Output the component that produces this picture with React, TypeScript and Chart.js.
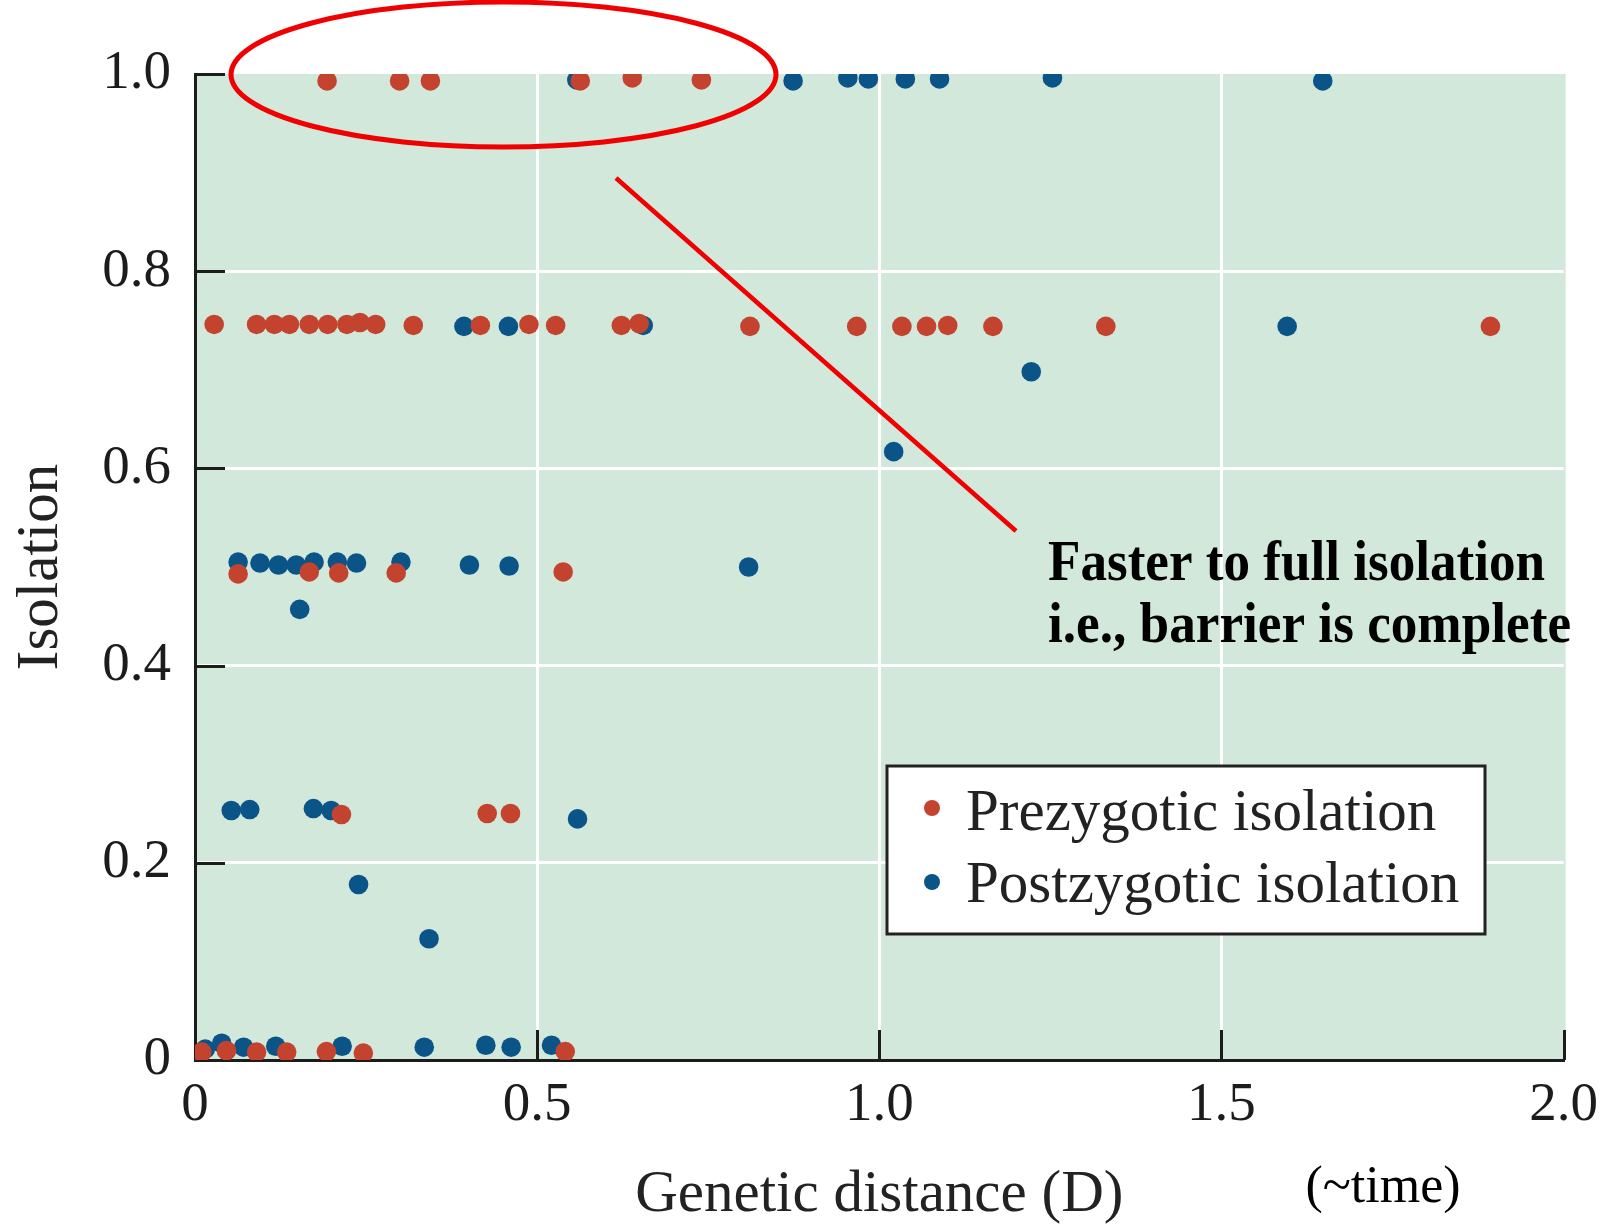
import React, { useEffect, useRef } from 'react';
import { Chart, registerables } from 'chart.js';

Chart.register(...registerables);

// ---- Data ----
const prezygoticD = [
  0.193, 0.299, 0.344, 0.563, 0.639, 0.740,
  0.028, 0.090, 0.116, 0.138, 0.167, 0.194, 0.222, 0.241, 0.264, 0.319, 0.417, 0.488, 0.527,
  0.623, 0.649, 0.811, 0.967, 1.033, 1.069, 1.100, 1.166, 1.331, 1.893,
  0.063, 0.167, 0.210, 0.294, 0.538,
  0.214, 0.427, 0.461,
  0.010, 0.046, 0.090, 0.134, 0.192, 0.246, 0.541,
];
const prezygoticIso = [
  0.993, 0.993, 0.993, 0.993, 0.996, 0.994,
  0.746, 0.746, 0.746, 0.746, 0.746, 0.746, 0.746, 0.748, 0.746, 0.745, 0.745, 0.746, 0.745,
  0.745, 0.747, 0.744, 0.744, 0.744, 0.744, 0.745, 0.744, 0.744, 0.744,
  0.493, 0.495, 0.494, 0.494, 0.495,
  0.249, 0.250, 0.250,
  0.008, 0.0095, 0.008, 0.008, 0.0085, 0.007, 0.0085,
];
const postzygoticD = [
  0.558, 0.874, 0.954, 0.984, 1.038, 1.088, 1.253, 1.648,
  0.393, 0.458, 0.655, 1.596,
  1.222, 1.021,
  0.063, 0.095, 0.122, 0.148, 0.174, 0.208, 0.236, 0.301, 0.401, 0.459, 0.809,
  0.153,
  0.053, 0.080, 0.173, 0.199, 0.559,
  0.239, 0.342,
  0.015, 0.039, 0.071, 0.118, 0.215, 0.335, 0.425, 0.462, 0.521,
];
const postzygoticIso = [
  0.994, 0.993, 0.996, 0.995, 0.995, 0.995, 0.996, 0.993,
  0.744, 0.744, 0.745, 0.744,
  0.698, 0.617,
  0.505, 0.504, 0.502, 0.502, 0.505, 0.505, 0.504, 0.505, 0.502, 0.501, 0.500,
  0.457,
  0.253, 0.254, 0.255, 0.253, 0.2445,
  0.178, 0.123,
  0.011, 0.017, 0.013, 0.014, 0.014, 0.013, 0.015, 0.013, 0.015,
];

const xTickValues = [0, 0.5, 1.0, 1.5, 2.0];
const xTickLabels = ['0', '0.5', '1.0', '1.5', '2.0'];
const yTickLabels = ['0', '0.2', '0.4', '0.6', '0.8', '1.0'];
const seriesNames = ['Prezygotic isolation', 'Postzygotic isolation'];
const annotationLines = ['Faster to full isolation', 'i.e., barrier is complete'];
const xTitle = 'Genetic distance (D)';
const yTitle = 'Isolation';
const timeNote = '(~time)';

// ---- Styles ----
const RED = '#c4432f';
const BLUE = '#0b5488';
const BG = '#d1e8da';
const INK = '#1c1c1c';
const SERIF = "'Liberation Serif', 'Times New Roman', serif";

const decorPlugin = {
  id: 'decor',
  beforeDraw(chart: any) {
    const { ctx, chartArea: a } = chart;
    ctx.save();
    ctx.fillStyle = '#ffffff';
    ctx.fillRect(0, 0, chart.width, chart.height);
    ctx.fillStyle = BG;
    ctx.fillRect(a.left, a.top, a.right - a.left + 2, a.bottom - a.top);
    ctx.restore();
  },
  afterDatasetsDraw(chart: any) {
    const { ctx, chartArea: a, scales } = chart;
    const xs = scales.x;
    const ys = scales.y;
    ctx.save();
    ctx.strokeStyle = INK;
    ctx.lineWidth = 3;
    // inward ticks on y axis
    [0.2, 0.4, 0.6, 0.8, 1.0].forEach((v) => {
      const py = Math.round(ys.getPixelForValue(v)) + 0.5;
      ctx.beginPath();
      ctx.moveTo(a.left, py);
      ctx.lineTo(a.left + 30, py);
      ctx.stroke();
    });
    // inward ticks on x axis
    xTickValues.slice(1).forEach((v) => {
      const px = Math.round(xs.getPixelForValue(v)) + 0.5;
      ctx.beginPath();
      ctx.moveTo(px, a.bottom);
      ctx.lineTo(px, a.bottom - 30);
      ctx.stroke();
    });
    ctx.restore();
  },
  afterDraw(chart: any) {
    const { ctx } = chart;
    ctx.save();
    // legend box
    ctx.fillStyle = '#ffffff';
    ctx.fillRect(887, 766, 598, 168);
    ctx.strokeStyle = '#222222';
    ctx.lineWidth = 3;
    ctx.strokeRect(887, 766, 598, 168);
    const colors = [RED, BLUE];
    const bulletY = [808, 882];
    const baseY = [830, 902];
    const widths = [472, 497];
    ctx.font = `59px ${SERIF}`;
    ctx.textAlign = 'left';
    ctx.textBaseline = 'alphabetic';
    seriesNames.forEach((name, i) => {
      ctx.fillStyle = colors[i];
      ctx.beginPath();
      ctx.arc(932, bulletY[i], 8, 0, Math.PI * 2);
      ctx.fill();
      ctx.fillStyle = '#222222';
      ctx.fillText(name, 966, baseY[i], widths[i]);
    });

    // annotation text
    ctx.fillStyle = '#000000';
    ctx.font = `bold 56px ${SERIF}`;
    ctx.fillText(annotationLines[0], 1048, 580, 497);
    ctx.fillText(annotationLines[1], 1048, 642, 523);

    // (~time)
    ctx.font = `52px ${SERIF}`;
    ctx.textAlign = 'center';
    ctx.fillStyle = '#000000';
    ctx.fillText(timeNote, 1383, 1202);

    // red ellipse + pointer line
    ctx.strokeStyle = '#f00000';
    ctx.lineWidth = 5;
    ctx.beginPath();
    ctx.ellipse(503.5, 74.5, 272.5, 72.5, 0, 0, Math.PI * 2);
    ctx.stroke();
    ctx.lineWidth = 4.5;
    ctx.beginPath();
    ctx.moveTo(616, 178);
    ctx.lineTo(1016, 531);
    ctx.stroke();
    ctx.restore();
  },
};

export default function App() {
  const canvasRef = useRef<HTMLCanvasElement | null>(null);

  useEffect(() => {
    document.body.style.margin = '0';
    document.body.style.overflow = 'hidden';
    const canvas = canvasRef.current;
    if (!canvas) return;

    const gridColor = (max: number) => (c: any) => {
      const v = c.tick ? c.tick.value : 0;
      return v > 1e-6 && v < max - 1e-6 ? '#ffffff' : 'rgba(0,0,0,0)';
    };

    const chart = new Chart(canvas, {
      type: 'scatter',
      data: {
        datasets: [
          {
            label: seriesNames[0],
            data: prezygoticD.map((x, i) => ({ x, y: prezygoticIso[i] })),
            backgroundColor: RED,
            borderColor: RED,
            pointRadius: 9.8,
            pointBorderWidth: 0,
            pointHoverRadius: 9.8,
          },
          {
            label: seriesNames[1],
            data: postzygoticD.map((x, i) => ({ x, y: postzygoticIso[i] })),
            backgroundColor: BLUE,
            borderColor: BLUE,
            pointRadius: 9.8,
            pointBorderWidth: 0,
            pointHoverRadius: 9.8,
          },
        ],
      },
      options: {
        responsive: false,
        animation: false,
        devicePixelRatio: 1,
        events: [],
        layout: { padding: { top: 74, right: 44, bottom: 0, left: 0 } },
        plugins: {
          legend: { display: false },
          tooltip: { enabled: false },
        },
        scales: {
          x: {
            type: 'linear',
            min: 0,
            max: 2,
            afterBuildTicks: (scale: any) => {
              scale.ticks = xTickValues.map((v) => ({ value: v }));
            },
            afterFit: (scale: any) => {
              scale.height = 165;
            },
            ticks: {
              padding: 13,
              color: INK,
              font: { family: SERIF, size: 55 },
              maxRotation: 0,
              autoSkip: false,
              callback: (value: any, index: number) => xTickLabels[index],
            },
            grid: {
              color: gridColor(2),
              lineWidth: 3,
              drawTicks: false,
            },
            border: { display: true, color: INK, width: 3 },
            title: {
              display: true,
              text: xTitle,
              color: '#222222',
              font: { family: SERIF, size: 59 },
              padding: { top: 0, bottom: -6 },
            },
          },
          y: {
            type: 'linear',
            min: 0,
            max: 1,
            ticks: {
              stepSize: 0.2,
              padding: 24,
              color: INK,
              font: { family: SERIF, size: 55 },
              callback: (value: any, index: number) => yTickLabels[index],
            },
            afterFit: (scale: any) => {
              scale.width = 195;
            },
            grid: {
              color: gridColor(1),
              lineWidth: 3,
              drawTicks: false,
            },
            border: { display: true, color: INK, width: 3 },
            title: {
              display: true,
              text: yTitle,
              color: '#222222',
              font: { family: SERIF, size: 59 },
              padding: { top: 6, bottom: 0 },
            },
          },
        },
      },
      plugins: [decorPlugin],
    } as any);

    return () => {
      chart.destroy();
    };
  }, []);

  return (
    <div style={{ width: 1611, height: 1225, position: 'relative' }}>
      <canvas ref={canvasRef} width={1611} height={1225} style={{ display: 'block' }} />
    </div>
  );
}
